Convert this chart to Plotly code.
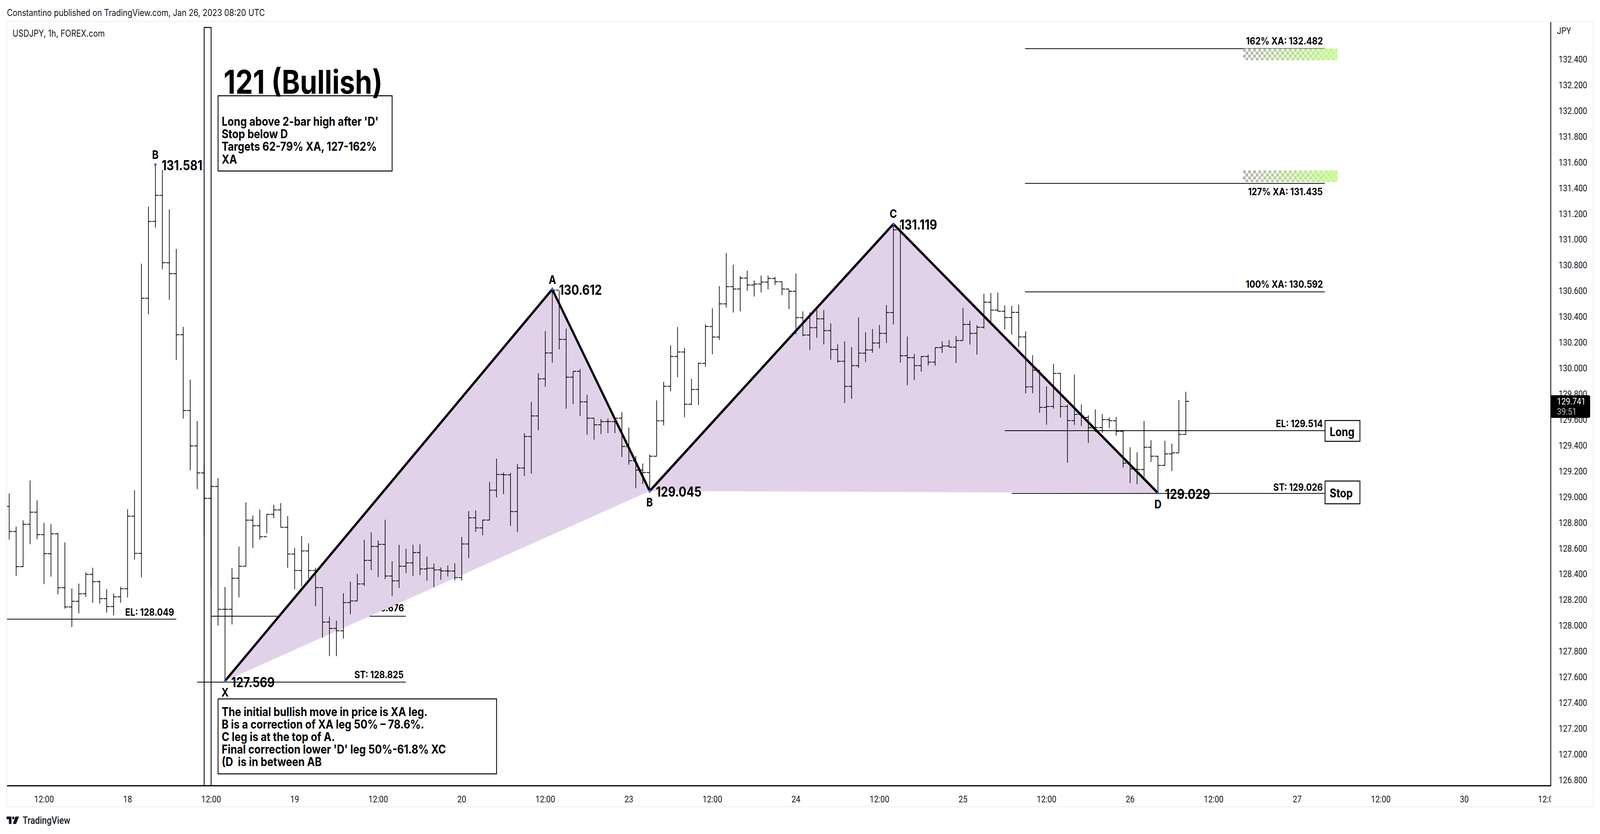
import plotly.graph_objects as go

# ---------- data (prices, USDJPY 1h bars) ----------
FIRST_OPEN = 128.925
HIGHS = [
    129.026,128.768,128.817,129.127,128.973,128.797,128.788,128.718,128.645,128.287,
    128.325,128.414,128.448,128.349,128.283,128.248,128.301,128.903,129.052,130.811,
    131.254,131.581,131.541,131.234,130.926,130.320,129.910,129.588,129.249,129.100,
    129.145,128.299,128.445,128.613,128.957,128.854,128.900,128.866,128.939,128.951,
    128.851,128.603,128.696,128.639,128.449,128.294,128.068,128.038,128.250,128.340,
    128.402,128.666,128.724,128.660,128.821,128.499,128.627,128.596,128.627,128.631,
    128.536,128.481,128.451,128.466,128.484,128.687,128.889,128.894,128.821,129.116,
    129.297,129.188,129.185,129.255,129.493,129.737,129.960,130.288,130.612,130.600,
    130.307,129.975,129.992,129.793,129.613,129.604,129.607,129.613,129.658,129.537,
    129.318,129.259,129.328,129.749,129.893,130.177,130.320,130.156,129.916,130.042,
    130.339,130.463,130.638,130.893,130.802,130.714,130.756,130.681,130.718,130.718,
    130.708,130.671,130.611,130.734,130.441,130.432,130.450,130.450,130.347,130.184,
    130.207,130.162,130.393,130.278,130.304,130.336,130.490,131.119,131.112,130.245,
    130.109,130.092,130.105,130.159,130.207,130.217,130.250,130.468,130.368,130.332,
    130.577,130.583,130.587,130.487,130.483,130.493,130.285,130.101,129.984,129.858,
    130.033,129.962,129.717,129.948,129.717,129.632,129.678,129.643,129.616,129.619,
    129.517,129.385,129.346,129.589,129.440,129.319,129.435,129.413,129.752,129.816,
]
LOWS = [
    128.667,128.386,128.454,128.631,128.670,128.321,128.379,128.242,128.131,127.988,
    128.094,128.221,128.176,128.170,128.100,128.079,128.176,128.218,128.513,128.374,
    130.418,131.092,130.769,130.531,130.062,129.608,129.206,129.059,128.700,128.300,
    127.999,127.569,128.008,128.218,128.460,128.602,128.667,128.715,128.833,128.763,
    128.449,128.282,128.305,128.363,128.150,127.904,127.762,127.762,127.898,128.088,
    128.190,128.306,128.430,128.376,128.360,128.230,128.291,128.406,128.385,128.391,
    128.347,128.297,128.355,128.381,128.351,128.349,128.524,128.727,128.701,128.819,
    128.995,129.021,128.774,128.727,129.162,129.179,129.517,129.855,130.042,130.145,
    129.684,129.720,129.628,129.482,129.444,129.488,129.495,129.495,129.309,129.249,
    129.066,129.100,129.045,129.315,129.555,129.820,129.929,129.619,129.713,129.713,
    130.011,130.107,130.219,130.471,130.432,130.441,130.602,130.556,130.587,130.611,
    130.645,130.567,130.459,130.262,130.247,130.141,130.235,130.184,130.065,130.042,
    129.728,129.761,130.002,130.048,130.119,130.153,130.195,130.339,130.043,129.867,
    129.907,129.972,130.019,130.019,130.117,130.162,130.040,130.216,130.183,130.105,
    130.306,130.356,130.441,130.300,130.260,130.163,129.804,129.804,129.653,129.560,
    129.685,129.616,129.265,129.558,129.550,129.418,129.503,129.497,129.534,129.476,
    129.227,129.106,129.097,129.147,129.270,129.029,129.242,129.200,129.341,129.484,
]
CLOSES = [
    128.730,128.457,128.786,128.880,128.706,128.558,128.712,128.293,128.144,128.188,
    128.246,128.397,128.340,128.208,128.147,128.223,128.285,128.849,128.560,130.543,
    131.140,131.342,130.818,130.733,130.259,129.670,129.395,129.185,128.988,129.080,
    128.126,128.126,128.367,128.460,128.818,128.775,128.690,128.864,128.898,128.763,
    128.555,128.427,128.579,128.427,128.294,128.026,127.977,127.959,128.178,128.190,
    128.323,128.506,128.614,128.630,128.384,128.347,128.460,128.487,128.566,128.439,
    128.445,128.432,128.424,128.423,128.372,128.633,128.836,128.758,128.819,129.051,
    129.173,129.171,128.885,129.224,129.468,129.628,129.916,130.117,130.605,130.223,
    129.929,129.975,129.737,129.611,129.559,129.584,129.584,129.611,129.391,129.279,
    129.207,129.188,129.315,129.590,129.859,130.090,130.125,129.719,129.834,130.037,
    130.323,130.241,130.499,130.632,130.614,130.699,130.645,130.653,130.668,130.696,
    130.671,130.614,130.597,130.392,130.257,130.314,130.383,130.291,130.144,130.053,
    129.858,130.019,130.116,130.141,130.195,130.270,130.431,131.074,130.096,130.081,
    130.019,130.090,130.046,130.159,130.171,130.163,130.214,130.339,130.270,130.317,
    130.512,130.450,130.441,130.393,130.433,130.242,129.854,129.983,129.695,129.702,
    129.959,129.702,129.592,129.640,129.616,129.537,129.538,129.599,129.591,129.509,
    129.261,129.216,129.212,129.385,129.315,129.244,129.333,129.341,129.484,129.741,
]
OPENS = [FIRST_OPEN] + CLOSES[:-1]
BAR_INDEX = list(range(len(CLOSES)))

PIVOT_NAMES = ["X", "A", "B", "C", "D"]
PIVOT_BARS = [31, 78, 92, 127, 165]
PIVOT_PRICES = [127.569, 130.612, 129.045, 131.119, 129.029]
PEAK_NAME, PEAK_BAR, PEAK_PRICE = "B", 21, 131.581

LEVEL_PRICES = [128.049, 127.560, 130.592, 131.435, 132.482, 129.514, 129.026]
LEVEL_STARTS = [-0.4, 27, 145.9, 145.9, 145.9, 143, 144]
LEVEL_ENDS = [24, 56.96, 188.96, 188.96, 188.96, 188.96, 188.96]
HIDDEN_LEVEL = (128.072, 29, 56.96)
HIDDEN_LABEL = "EL: 128.676"
BOX_LEFT_BAR, BOX_RIGHT_BAR, BOX_TOP_PRICE = 28, 29, 132.647

X_TICK_BARS = [5 + 12 * k for k in range(19)]
X_TICK_TEXT = ["12:00","18","12:00","19","12:00","20","12:00","23","12:00","24",
               "12:00","25","12:00","26","12:00","27","12:00","30","12:00"]
Y_TICKS = [126.8 + 0.2 * k for k in range(29)]

NOTE_TOP = ["Long above 2-bar high after 'D'", "Stop below D",
            "Targets 62-79% XA, 127-162%", "XA"]
NOTE_BOTTOM = ["The initial bullish move in price is XA leg.",
               "B is a correction of XA leg 50% \u2013 78.6%.",
               "C leg is at the top of A.",
               "Final correction lower 'D' leg 50%-61.8% XC",
               "(D \u00a0is in between AB"]

# ---------- frame geometry ----------
W, H = 4872, 2136
L, R, T, B = 20, 4721, 54.6, 2010.7
X_RANGE = [-0.3774, 221.37]
Y_RANGE = [126.759, 132.693]
INK = "#131722"
PURPLE = "#E2D2E9"


def xp(x):
    return (x - L) / (R - L)


def yp(y):
    return 1 - (y - T) / (B - T)


annotations, shapes = [], []


def note(x, y, text, size=26, anchor="left", weight=700, family="Inter", color="#000000"):
    annotations.append(dict(x=xp(x), y=yp(y), xref="paper", yref="paper", text=text,
                            showarrow=False, xanchor=anchor, yanchor="middle",
                            align=anchor, borderpad=0,
                            font=dict(family=family, size=size, color=color, weight=weight)))


def rect(x0, y0, x1, y1, line="#000000", lw=2.5, fill=None, rx=0):
    shapes.append(dict(type="rect", xref="paper", yref="paper", x0=xp(x0), x1=xp(x1),
                       y0=yp(y0), y1=yp(y1), layer="above",
                       line=dict(color=line, width=lw), fillcolor=fill or "rgba(0,0,0,0)"))


def hline(x0, x1, y, color, lw):
    shapes.append(dict(type="line", xref="paper", yref="paper", x0=xp(x0), x1=xp(x1),
                       y0=yp(y), y1=yp(y), layer="above", line=dict(color=color, width=lw)))


def vline(x, y0, y1, color, lw):
    shapes.append(dict(type="line", xref="paper", yref="paper", x0=xp(x), x1=xp(x),
                       y0=yp(y0), y1=yp(y1), layer="above", line=dict(color=color, width=lw)))


fig = go.Figure()

# base layer: hidden level + its label, then pattern fills
fig.add_trace(go.Scatter(x=[HIDDEN_LEVEL[1], HIDDEN_LEVEL[2]], y=[HIDDEN_LEVEL[0]] * 2,
                         mode="lines", line=dict(color="#000000", width=2), hoverinfo="skip"))
fig.add_trace(go.Scatter(x=[56.7], y=[128.129], mode="text", text=[HIDDEN_LABEL],
                         textposition="middle left", hoverinfo="skip",
                         textfont=dict(family="Inter", size=26, color="#000000", weight=700)))
fig.add_trace(go.Scatter(x=PIVOT_BARS[:3] + [None] + PIVOT_BARS[2:5],
                         y=PIVOT_PRICES[:3] + [None] + PIVOT_PRICES[2:5],
                         mode="none", fill="toself", fillcolor=PURPLE, hoverinfo="skip"))

# overlay layer: bars, pattern legs, level lines
fig.add_trace(go.Ohlc(x=BAR_INDEX, open=OPENS, high=HIGHS, low=LOWS, close=CLOSES,
                      xaxis="x2", yaxis="y2", tickwidth=0.45,
                      increasing=dict(line=dict(color="#000000", width=2)),
                      decreasing=dict(line=dict(color="#000000", width=2))))
for p, s, e in zip(LEVEL_PRICES, LEVEL_STARTS, LEVEL_ENDS):
    fig.add_trace(go.Scatter(x=[s, e], y=[p, p], mode="lines", xaxis="x2", yaxis="y2",
                             line=dict(color="#000000", width=2), hoverinfo="skip"))
fig.add_trace(go.Scatter(x=PIVOT_BARS, y=PIVOT_PRICES, mode="lines", xaxis="x2", yaxis="y2",
                         line=dict(color="#000000", width=6.5), hoverinfo="skip"))
fig.add_trace(go.Scatter(x=PIVOT_BARS + [PEAK_BAR], y=PIVOT_PRICES + [PEAK_PRICE],
                         mode="markers", xaxis="x2", yaxis="y2", hoverinfo="skip",
                         marker=dict(color="#2962FF", size=7)))
# tall rectangle
fig.add_trace(go.Scatter(x=[BOX_LEFT_BAR, BOX_LEFT_BAR, BOX_RIGHT_BAR, BOX_RIGHT_BAR],
                         y=[Y_RANGE[0], BOX_TOP_PRICE, BOX_TOP_PRICE, Y_RANGE[0]],
                         mode="lines", xaxis="x2", yaxis="y2", hoverinfo="skip",
                         line=dict(color="#000000", width=2.5)))


def point_label(bar, price, text, dx, dy=0, size=35, anchor="left"):
    annotations.append(dict(x=bar, y=price, xref="x", yref="y", text=text, showarrow=False,
                            xanchor=anchor, yanchor="middle", xshift=dx, yshift=-dy, borderpad=0,
                            font=dict(family="Inter", size=size, color="#000000", weight=700)))


for bar, price, dx, dy in zip(PIVOT_BARS + [PEAK_BAR], PIVOT_PRICES + [PEAK_PRICE],
                              [18, 19, 18, 18, 20, 18], [3, 1, 2, 1, 2, 1]):
    point_label(bar, price, f"{price:.3f}", dx, dy)
for bar, price, dy, name in zip(PIVOT_BARS + [PEAK_BAR], PIVOT_PRICES + [PEAK_PRICE],
                                [29, -25, 29, -27, 28, -26], PIVOT_NAMES + [PEAK_NAME]):
    point_label(bar, price, name, 0, dy, size=30, anchor="center")

# level labels
note(531, 1567, "EL: 128.049", anchor="right")
note(1230, 1727, "ST: 128.825", anchor="right")
note(4029, 104.6, "162% XA: 132.482", anchor="right")
note(4029, 489.8, "127% XA: 131.435", anchor="right")
note(4029, 727.6, "100% XA: 130.592", anchor="right")
note(4029, 1084, "EL: 129.514", anchor="right")
note(4029, 1246.7, "ST: 129.026", anchor="right")

# title + notes
note(680, 209, "121 (Bullish)", size=84)
rect(664, 244.8, 1194, 437.7)
for y, t in zip([310, 342, 374.6, 407], NOTE_TOP):
    note(674, y, t, size=31.5)
rect(664, 1789.7, 1512, 1981.7)
for y, t in zip([1821.8, 1854, 1886.5, 1918, 1950], NOTE_BOTTOM):
    note(674, y, t, size=31.5)

# Long / Stop tags
rect(4034.8, 1076.7, 4141, 1130)
note(4047.5, 1105, "Long", size=31)
rect(4034.8, 1231.7, 4141, 1290)
note(4047.5, 1261.7, "Stop", size=31)


# checkered target zones
def mix(a, b, t):
    return tuple(round(a[i] + (b[i] - a[i]) * t) for i in range(3))


for top in (124, 436):
    for c in range(37):
        for r_ in range(4):
            x0 = 3785.3 + 7.77 * c
            y0 = top + 7.8 * r_
            dark = (c + r_) % 2 == 0
            t = c / 36
            col = mix((176, 176, 176), (198, 246, 148), t) if dark else mix((255, 255, 255), (208, 255, 160), t)
            shapes.append(dict(type="rect", xref="paper", yref="paper", layer="above",
                               x0=xp(x0), x1=xp(min(x0 + 7.77, 4072.7)),
                               y0=yp(y0), y1=yp(min(y0 + 7.8, top + 30)),
                               line=dict(width=0), fillcolor="rgb(%d,%d,%d)" % col))

# frame
FRAME = "#F0F3FA"
hline(L, 4851.7, T, FRAME, 3)
hline(L, 4851.7, 2065.7, FRAME, 3)
vline(L, T, 2065.7, FRAME, 3)
vline(4851.7, T, 2065.7, FRAME, 3)
# clip the last time label at the price scale
rect(4722.5, 2014, 4850, 2062, line="#FFFFFF", lw=0, fill="#FFFFFF")

# header/footer text
note(20, 31.6, "Constantino published on TradingView.com, Jan 26, 2023 08:20 UTC",
     size=24, weight=400, color=INK)
note(36.5, 85.6, "USDJPY, 1h, FOREX.com", size=24, weight=400, color=INK)
note(4740, 79, "JPY", size=24, weight=400, family="Roboto", color=INK)
note(68, 2101, "TradingView", size=26, weight=500, family="Roboto", color=INK)

# last-price tag
shapes.append(dict(type="path", xref="paper", yref="paper", layer="above", line=dict(width=0),
                   fillcolor="#000000",
                   path=f"M {xp(4721)} {yp(1012)} L {xp(4838.5)} {yp(1012)} L {xp(4842)} {yp(1015)} "
                        f"L {xp(4842)} {yp(1067)} L {xp(4838.5)} {yp(1070)} L {xp(4721)} {yp(1070)} Z"))
note(4740, 1028, f"{CLOSES[-1]:.3f}", size=24, weight=400, family="Roboto", color="#FFFFFF")
note(4740, 1054, "39:51", size=24, weight=400, family="Roboto", color="#B8B8B8")

# TradingView mark
logo = [[(20, 2091), (35, 2091), (35, 2110), (27, 2110), (27, 2098), (20, 2098)],
        [(47, 2091), (58, 2091), (49, 2110), (39, 2110)]]
for poly in logo:
    d = "M " + " L ".join(f"{xp(a)} {yp(b)}" for a, b in poly) + " Z"
    shapes.append(dict(type="path", xref="paper", yref="paper", layer="above", path=d,
                       line=dict(width=0), fillcolor=INK))
shapes.append(dict(type="circle", xref="paper", yref="paper", layer="above",
                   x0=xp(37), x1=xp(44), y0=yp(2091), y1=yp(2098),
                   line=dict(width=0), fillcolor=INK))

fig.update_layout(
    width=W, height=H, autosize=False, showlegend=False,
    margin=dict(l=L, r=W - R, t=T, b=H - B, pad=0, autoexpand=False),
    paper_bgcolor="#FFFFFF", plot_bgcolor="#FFFFFF",
    font=dict(family="Roboto", size=24, color=INK),
    annotations=annotations, shapes=shapes,
    xaxis=dict(range=X_RANGE, tickmode="array", tickvals=X_TICK_BARS, ticktext=X_TICK_TEXT,
               showgrid=False, zeroline=False, showline=True, linecolor="#000000", linewidth=2.5,
               ticks="", ticklabelstandoff=12, tickfont=dict(family="Roboto", size=24, color=INK),
               rangeslider=dict(visible=False), fixedrange=True),
    yaxis=dict(range=Y_RANGE, side="right", tickmode="array", tickvals=Y_TICKS,
               ticktext=[f"{v:.3f}" for v in Y_TICKS], showgrid=False, zeroline=False,
               showline=True, linecolor="#000000", linewidth=2, ticks="", ticklabelstandoff=18,
               tickfont=dict(family="Roboto", size=24, color=INK), fixedrange=True),
    xaxis2=dict(range=X_RANGE, overlaying="x", visible=False, rangeslider=dict(visible=False), fixedrange=True),
    yaxis2=dict(range=Y_RANGE, overlaying="y", visible=False, fixedrange=True),
)

assert len(HIGHS) == len(LOWS) == len(CLOSES) == 170

FIT_PAGE = """
document.body.style.margin='0';
document.documentElement.style.overflow='hidden';
document.body.style.overflow='hidden';
var gd=document.querySelector('.plotly-graph-div');
gd.style.transformOrigin='0 0';
gd.style.transform='scale('+(window.innerWidth/%d)+','+(window.innerHeight/%d)+')';
""" % (W, H)
fig.write_html("out.html", config=dict(displayModeBar=False), post_script=FIT_PAGE)
